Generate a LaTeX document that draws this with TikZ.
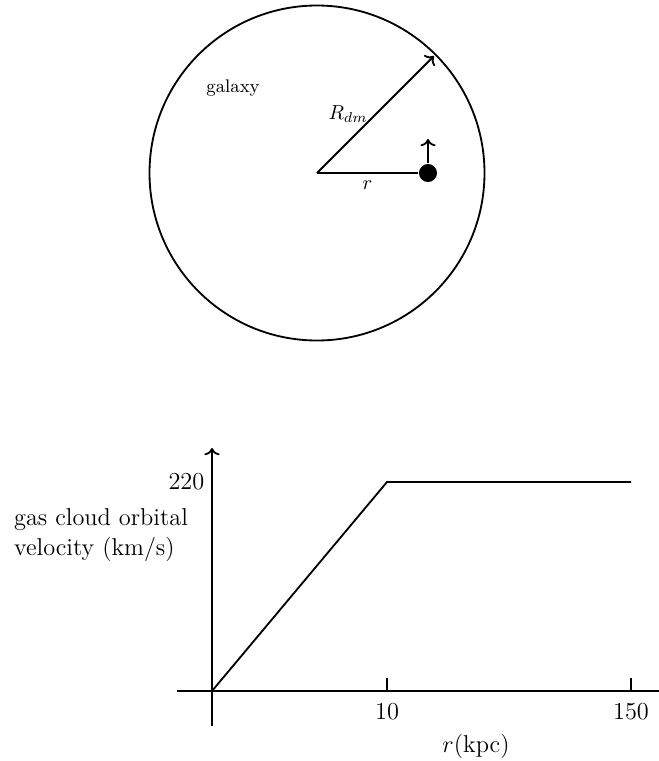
\documentclass[tikz,border=0pt]{standalone}
\usetikzlibrary{arrows.meta,positioning,calc}

\tikzset{
    cloud/.style={circle, fill=black, inner sep=0pt, minimum size=8.9pt},
    axislabel/.style={font=\large}
}

\begin{document}
\begin{tikzpicture}[x=0.4926pt, y=-0.4926pt, line width=0.9pt, >=To]

    \useasboundingbox (0,0) rectangle (659,761);

    % Galaxy
    \coordinate (centre) at (317,173);
    \coordinate (rim) at (434,56);
    \draw (centre) circle (167.5);
    \node[font=\small] (galaxy) at (233,88) {galaxy};

    % Dark matter radius
    \draw[->] (centre) -- (rim) node[midway, left] (rdm) {$R_{dm}$};

    % Gas cloud
    \node[cloud] (gas) at (428,173) {};
    \coordinate (push) at (428,139);
    \draw (centre) -- (gas) node[midway, below] (rlab) {$r$};
    \draw[->] (gas.north) -- (push);

    % Axes
    \coordinate (O) at (212,691);
    \coordinate (xl) at (177,691);
    \coordinate (xr) at (659,691);
    \coordinate (yb) at (212,726);
    \coordinate (yt) at (212,448);
    \draw (xl) -- (xr);
    \draw[->] (yb) -- (yt);

    % Ticks
    \foreach \x/\lab in {387/10, 631/150} {
        \coordinate (tick\lab) at (\x,691);
        \draw (tick\lab) -- ++(0,-13);
        \node[axislabel] (val\lab) at (\x,712) {\lab};
    }

    % Rotation curve
    \coordinate (knee) at (387,482);
    \coordinate (far) at (631,482);
    \draw (O) -- (knee) -- (far);

    % Labels
    \node[axislabel, left] (vmax) at (212,482) {220};
    \node[axislabel, align=left] (ylab) at (101,535) {gas cloud orbital\\[1pt] velocity (km/s)};
    \node[axislabel] (xlab) at (476,746) {$r$(kpc)};

\end{tikzpicture}
\end{document}
